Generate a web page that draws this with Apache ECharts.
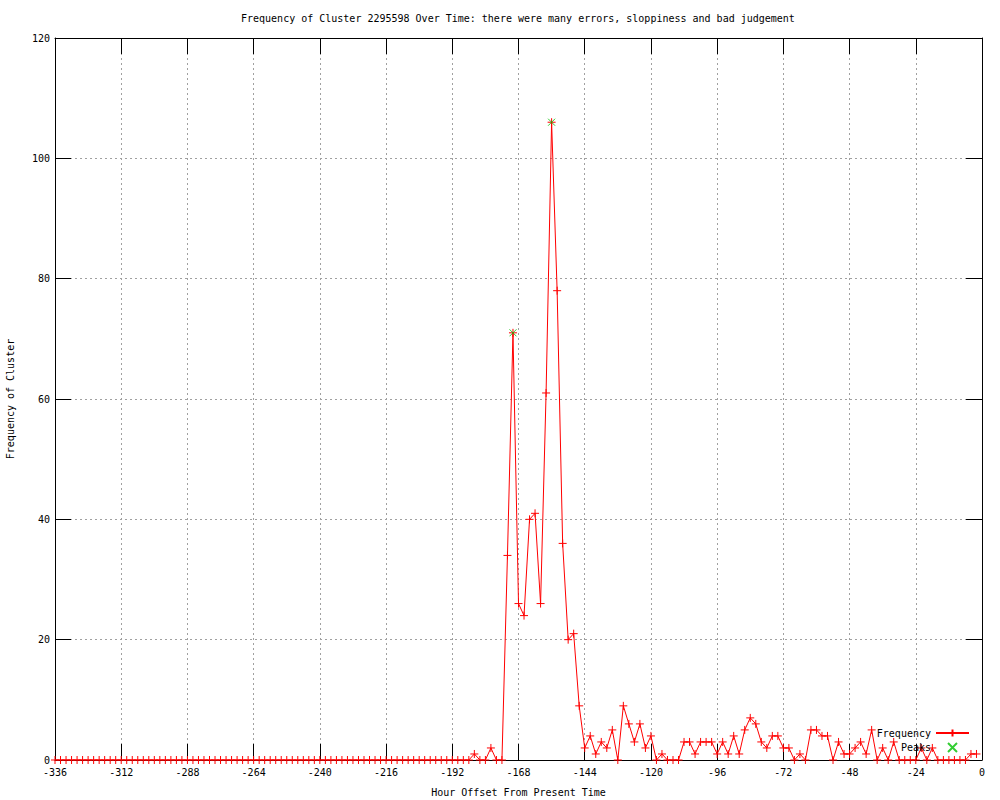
<!DOCTYPE html>
<html>
<head>
<meta charset="utf-8">
<script src="https://cdn.jsdelivr.net/npm/echarts@6/dist/echarts.min.js"></script>
<style>
html,body{margin:0;padding:0;background:#fff;}
#chart{width:1000px;height:800px;}
</style>
</head>
<body>
<div id="chart"></div>
<script>
// Hour offsets: one sample every 2 hours starting at -336
const startHour = -336;
const stepHours = 2;
const frequency = [
  0,0,0,0,0,0,0,0,0,0, 0,0,0,0,0,0,0,0,0,0,
  0,0,0,0,0,0,0,0,0,0, 0,0,0,0,0,0,0,0,0,0,
  0,0,0,0,0,0,0,0,0,0, 0,0,0,0,0,0,0,0,0,0,
  0,0,0,0,0,0,0,0,0,0, 0,0,0,0,0,0,1,0,0,2,
  0,0,34,71,26,24,40,41,26,61, 106,78,36,20,21,9,2,4,1,3,
  2,5,0,9,6,3,6,2,4,0, 1,0,0,0,3,3,1,3,3,3,
  1,3,1,4,1,5,7,6,3,2, 4,4,2,2,0,1,0,5,5,4,
  4,0,3,1,1,2,3,1,5,0, 2,0,3,0,0,0,0,2,0,2,
  0,0,0,0,0,0,1,1
];
const peakHours = [-170, -156];
const peakValues = [71, 106];
const xTicks = {min: -336, max: 0, interval: 24};
const yTicks = {min: 0, max: 120, interval: 20};

const titleText = 'Frequency of Cluster 2295598 Over Time: there were many errors, sloppiness and bad judgement';
const xName = 'Hour Offset From Present Time';
const yName = 'Frequency of Cluster';

const freqData = frequency.map((v, i) => [startHour + i * stepHours, v]);
const peakData = peakHours.map((h, i) => [h, peakValues[i]]);

const FONT = 'DejaVu Sans Mono';
const FS = 10;
const plus = 'path://M0,5L10,5M5,0L5,10';
const cross = 'path://M0,0L10,10M10,0L0,10';

const gridLine = {show: true, lineStyle: {color: '#a0a0a0', type: [2, 3], width: 1}};

const chart = echarts.init(document.getElementById('chart'), null, {renderer: 'svg'});
chart.setOption({
  animation: false,
  backgroundColor: '#ffffff',
  title: {
    text: titleText,
    left: 241, top: 13, padding: 0,
    textStyle: {fontFamily: FONT, fontSize: FS, fontWeight: 'normal', color: '#000'}
  },
  legend: {
    orient: 'vertical', right: 30, top: 728, align: 'right', padding: 0,
    itemWidth: 33, itemHeight: 9, itemGap: 4,
    textStyle: {fontFamily: FONT, fontSize: FS, color: '#000'},
    data: ['Frequency', 'Peaks']
  },
  grid: {left: 55, right: 18, top: 38, bottom: 40, containLabel: false, outerBoundsMode: 'none'},
  xAxis: [{
    type: 'value', min: xTicks.min, max: xTicks.max, interval: xTicks.interval,
    position: 'bottom',
    name: xName, nameLocation: 'middle', nameGap: 27,
    nameTextStyle: {fontFamily: FONT, fontSize: FS, color: '#000'},
    axisLine: {show: true, onZero: false, lineStyle: {color: '#000', width: 1}},
    axisTick: {show: true, inside: true, length: 16, lineStyle: {color: '#000'}},
    axisLabel: {fontFamily: FONT, fontSize: FS, color: '#000', margin: 7},
    splitLine: gridLine
  }, {
    type: 'value', min: xTicks.min, max: xTicks.max, interval: xTicks.interval,
    position: 'top',
    axisLine: {show: true, onZero: false, lineStyle: {color: '#000', width: 1}},
    axisTick: {show: true, inside: true, length: 16, lineStyle: {color: '#000'}},
    axisLabel: {show: false},
    splitLine: {show: false}
  }],
  yAxis: [{
    type: 'value', min: yTicks.min, max: yTicks.max, interval: yTicks.interval,
    position: 'left',
    name: yName, nameLocation: 'middle', nameGap: 40, nameRotate: 90,
    nameTextStyle: {fontFamily: FONT, fontSize: FS, color: '#000'},
    axisLine: {show: true, onZero: false, lineStyle: {color: '#000', width: 1}},
    axisTick: {show: true, inside: true, length: 16, lineStyle: {color: '#000'}},
    axisLabel: {fontFamily: FONT, fontSize: FS, color: '#000', margin: 5},
    splitLine: gridLine
  }, {
    type: 'value', min: yTicks.min, max: yTicks.max, interval: yTicks.interval,
    position: 'right',
    axisLine: {show: true, onZero: false, lineStyle: {color: '#000', width: 1}},
    axisTick: {show: true, inside: true, length: 16, lineStyle: {color: '#000'}},
    axisLabel: {show: false},
    splitLine: {show: false}
  }],
  series: [{
    name: 'Frequency', type: 'line', data: freqData,
    xAxisIndex: 0, yAxisIndex: 0,
    symbol: plus, symbolSize: 8, showSymbol: true, showAllSymbol: true,
    lineStyle: {color: '#ff0000', width: 1},
    itemStyle: {color: '#ff0000', borderColor: '#ff0000', borderWidth: 1},
    z: 3
  }, {
    name: 'Peaks', type: 'scatter', data: peakData,
    xAxisIndex: 0, yAxisIndex: 0,
    symbol: cross, symbolSize: 7,
    itemStyle: {color: '#00c000', borderColor: '#00c000', borderWidth: 1},
    z: 4
  }]
});
</script>
</body>
</html>
